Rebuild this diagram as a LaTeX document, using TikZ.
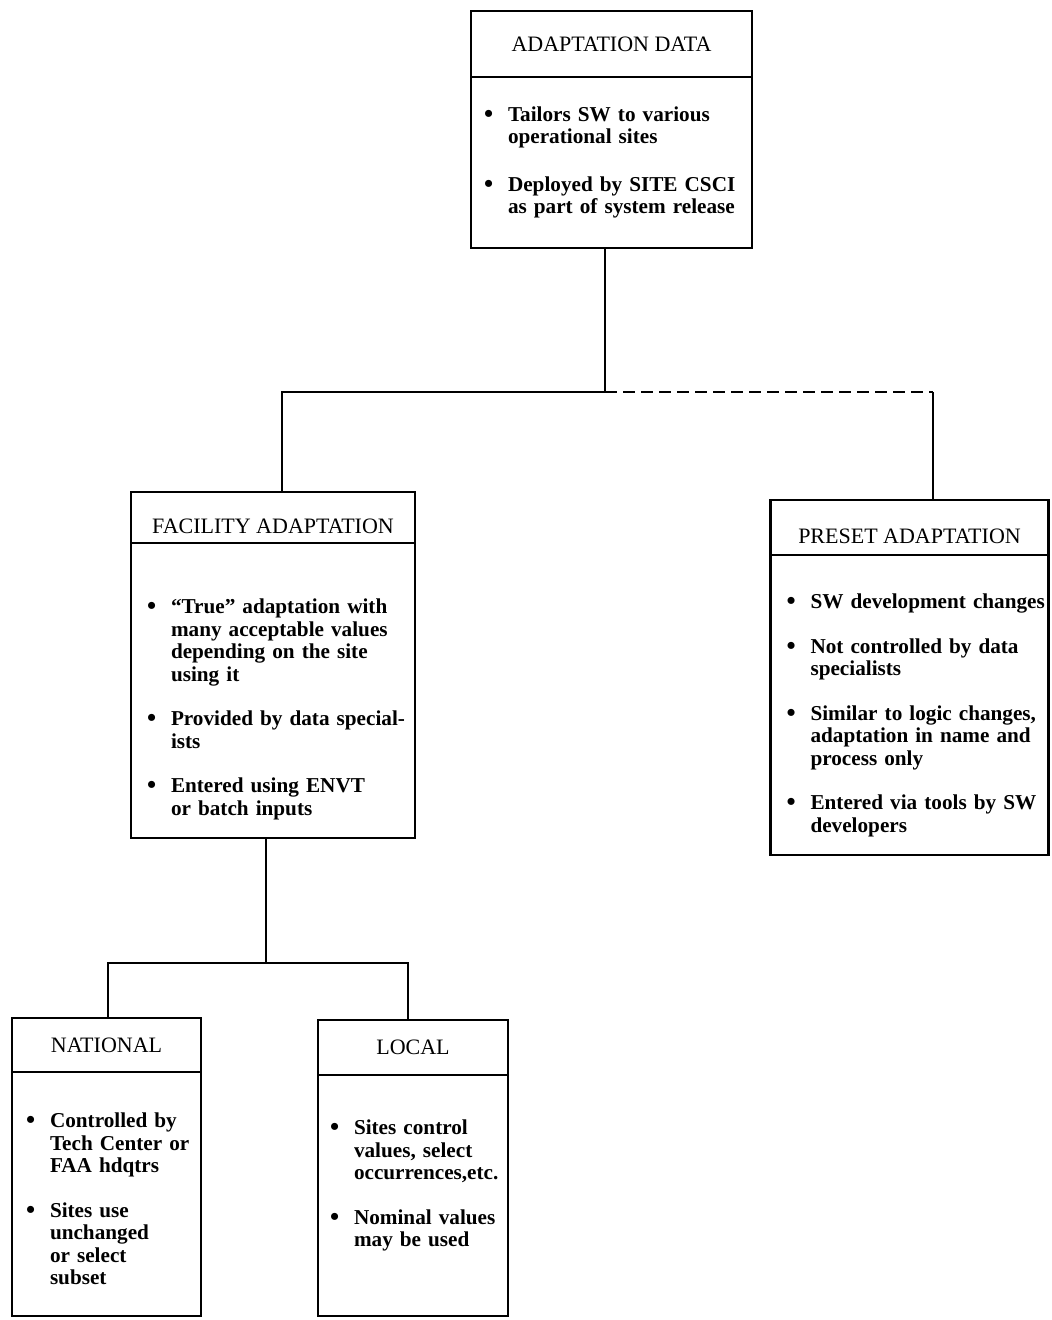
\documentclass[tikz,border=0pt]{standalone}
\usepackage{fontspec}
\setmainfont{Liberation Serif}
\usetikzlibrary{positioning}
\newcommand{\itm}[2][11pt]{\par\hangindent=12pt\hangafter=1\noindent\makebox[12pt][l]{\raisebox{-0.5pt}{\fontsize{13}{11}\selectfont\textbullet}}#2\parskip=#1\par}

\begin{document}
\begin{tikzpicture}[x=0.5pt,y=-0.5pt,node distance=0pt]
  \tikzstyle{hd}=[draw,line width=1.4pt,inner sep=0pt,outer sep=0pt,font=\fontsize{11}{12}\selectfont]
  \tikzstyle{bd}=[draw,line width=1.4pt,inner sep=0pt,outer sep=0pt]
  \tikzstyle{txt}=[inner sep=0pt,outer sep=0pt,text width=150pt,font=\bfseries\fontsize{10.6}{11.25}\selectfont,
    execute at begin node={\rightskip=0pt plus 1fil\parindent=0pt}]
  \tikzstyle{low}=[text height=16pt,text depth=0pt]
  \tikzstyle{link}=[line width=1.2pt]
  \useasboundingbox (0,0) rectangle (1051,1320);

  % top level
  \node [hd,minimum width=140.5pt,minimum height=33pt] (dataHd) at (611.5,44) {ADAPTATION DATA};
  \node [bd,minimum width=140.5pt,minimum height=85.5pt,below=of dataHd] (dataBd) {};
  \node [txt,below right=11pt and 6.5pt of dataBd.north west] (dataTx) {%
    \itm[12.5pt]{Tailors SW to various\newline operational sites}
    \itm{Deployed by SITE CSCI\newline as part of system release}};

  % second level
  \node [hd,low,minimum width=142pt,minimum height=25.5pt] (facHd) at (273,517.5) {FACILITY ADAPTATION};
  \node [bd,minimum width=142pt,minimum height=147.5pt,below=of facHd] (facBd) {};
  \node [txt,below right=24pt and 8pt of facBd.north west] (facTx) {%
    \itm{``True'' adaptation with\newline many acceptable values\newline depending on the site\newline using it}
    \itm{Provided by data special-\newline ists}
    \itm{Entered using ENVT\newline or batch inputs}};

  \node [hd,low,minimum width=139pt,minimum height=27.5pt] (preHd) at (909.5,527.5) {PRESET ADAPTATION};
  \node [bd,minimum width=139pt,minimum height=150pt,below=of preHd] (preBd) {};
  \node [txt,below right=15.5pt and 8pt of preBd.north west] (preTx) {%
    \itm{SW development changes}
    \itm{Not controlled by data\newline specialists}
    \itm{Similar to logic changes,\newline adaptation in name and\newline process only}
    \itm{Entered via tools by SW\newline developers}};

  % third level
  \node [hd,minimum width=94.5pt,minimum height=27pt] (natHd) at (106.5,1045) {NATIONAL};
  \node [bd,minimum width=94.5pt,minimum height=122pt,below=of natHd] (natBd) {};
  \node [txt,below right=16.5pt and 7pt of natBd.north west] (natTx) {%
    \itm{Controlled by\newline Tech Center or\newline FAA hdqtrs}
    \itm{Sites use\newline unchanged\newline or select\newline subset}};

  \node [hd,minimum width=95pt,minimum height=27.5pt] (locHd) at (413,1047.5) {LOCAL};
  \node [bd,minimum width=95pt,minimum height=120.5pt,below=of locHd] (locBd) {};
  \node [txt,below right=18.5pt and 6pt of locBd.north west] (locTx) {%
    \itm{Sites control\newline values, select\newline occurrences,etc.}
    \itm{Nominal values\newline may be used}};

  % connectors
  \coordinate (jTop) at (605,392);
  \coordinate (jFac) at (282,392);
  \coordinate (jPre) at (933,392);
  \draw [link] (dataBd.south -| jTop) -- (jTop) -- (jFac) -- (jFac |- facHd.north);
  \draw [link,dash pattern=on 6pt off 3pt] (jTop) -- (jPre);
  \draw [link] (jPre) -- (jPre |- preHd.north);

  \coordinate (jLow) at (266,963);
  \coordinate (jNat) at (108,963);
  \coordinate (jLoc) at (408,963);
  \draw [link] (facBd.south -| jLow) -- (jLow);
  \draw [link] (jNat |- natHd.north) -- (jNat) -- (jLoc) -- (jLoc |- locHd.north);
\end{tikzpicture}
\end{document}
